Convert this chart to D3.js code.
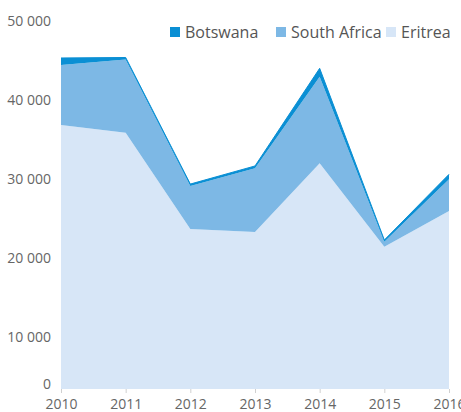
<!DOCTYPE html>
<html>
<head>
<meta charset="utf-8">
<script src="https://cdn.jsdelivr.net/npm/d3@7"></script>
<style>
  html, body { margin: 0; padding: 0; background: #fff; }
  svg { display: block; font-family: "Open Sans", sans-serif; }
</style>
</head>
<body>
<svg id="chart" width="461" height="412"></svg>
<script>
const years = [2010, 2011, 2012, 2013, 2014, 2015, 2016];
const eritrea = [36840, 35860, 23670, 23300, 32000, 21430, 25950];
const southAfrica = [7590, 9270, 5440, 8050, 10950, 630, 4010];
const botswana = [890, 250, 250, 300, 1060, 220, 630];
const seriesNames = ["Eritrea", "South Africa", "Botswana"];
const colors = ["#d7e6f7", "#7db8e5", "#0a8fd4"];
const yTicks = [0, 10000, 20000, 30000, 40000, 50000];
const legendOrder = ["Botswana", "South Africa", "Eritrea"];

const svg = d3.select("#chart");
const left = 61, right = 449, bottom = 389;

const x = d3.scalePoint().domain(years).range([left, right]);
const y = d3.scaleLinear().domain([0, 10000, 50000]).range([bottom, 337, 21]);

const rows = years.map((yr, i) => ({
  year: yr, "Eritrea": eritrea[i], "South Africa": southAfrica[i], "Botswana": botswana[i]
}));
const stacked = d3.stack().keys(seriesNames)(rows);

const area = d3.area()
  .x(d => x(d.data.year))
  .y0(d => y(d[0]))
  .y1(d => y(d[1]));

svg.append("g").selectAll("path")
  .data(stacked)
  .join("path")
  .attr("d", area)
  .attr("fill", (d, i) => colors[i]);

// thin top edge of Botswana layer
svg.append("path")
  .datum(stacked[2])
  .attr("d", d3.line().x(d => x(d.data.year)).y(d => y(d[1])))
  .attr("fill", "none")
  .attr("stroke", colors[2])
  .attr("stroke-width", 1);

// Y axis
const yAxis = svg.append("g")
  .attr("transform", `translate(${left},0)`)
  .call(d3.axisLeft(y).tickValues(yTicks).tickSize(0).tickPadding(10)
    .tickFormat(d => d3.format(",")(d).replace(/,/g, " ")));
yAxis.select(".domain").remove();
yAxis.selectAll("text").attr("fill", "#666").style("font-size", "14px")
  .style("font-family", "'Open Sans', sans-serif");
yAxis.selectAll(".tick").filter(d => d === 0).select("text").attr("dy", "-0.05em");

// X axis
const xAxis = svg.append("g")
  .attr("transform", `translate(0,${bottom})`)
  .call(d3.axisBottom(x).tickSize(4).tickPadding(6));
xAxis.select(".domain").remove();
xAxis.selectAll("line").attr("stroke", "#d0d0d0");
xAxis.selectAll("text").attr("fill", "#666").style("font-size", "14px")
  .style("font-family", "'Open Sans', sans-serif");

// Legend
const legendX = [170, 276, 386];
const lg = svg.append("g");
legendOrder.forEach((name, i) => {
  const g = lg.append("g").attr("transform", `translate(${legendX[i]},27)`);
  g.append("rect").attr("width", 10).attr("height", 10)
    .attr("fill", colors[seriesNames.indexOf(name)]);
  g.append("text").attr("x", 15).attr("y", 5).attr("dy", "0.35em")
    .attr("fill", "#555").style("font-size", "16px").text(name);
});
</script>
</body>
</html>
